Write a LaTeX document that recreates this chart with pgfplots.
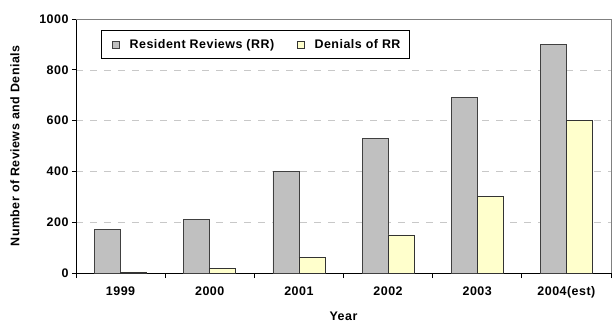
\documentclass[border=0pt]{standalone}
\usepackage{fontspec}
\setmainfont{Liberation Sans}[LetterSpace=4]
\usepackage{pgfplots}
\pgfplotsset{compat=1.18}

\definecolor{rrgray}{HTML}{C0C0C0}
\definecolor{denyellow}{HTML}{FFFFCC}
\definecolor{gridgray}{HTML}{C8C8C8}

\begin{document}
\begin{tikzpicture}[font=\fontsize{12.5}{14.5}\selectfont\bfseries]
\begin{axis}[
  scale only axis,
  width=535bp, height=254bp,
  ybar=0pt, bar width=26bp,
  xmin=-0.5, xmax=5.5,
  ymin=0, ymax=1000,
  xtick={0,1,2,3,4,5},
  xticklabels={1999,2000,2001,2002,2003,2004(est)},
  minor xtick={-0.5,0.5,1.5,2.5,3.5,4.5,5.5},
  major x tick style={draw=none},
  minor tick length=5bp,
  ytick={0,200,400,600,800,1000},
  major tick length=4bp,
  tick align=outside,
  tick style={black, line width=0.8pt},
  axis x line*=bottom, axis y line*=left,
  axis line style={black, line width=0.9pt, -},
  ymajorgrids,
  y grid style={gridgray, dash pattern=on 7bp off 7bp, line width=0.6pt},
  /pgf/number format/assume math mode=true,
  /pgf/number format/set thousands separator={},
  xticklabel style={yshift=-6bp},
  ylabel={Number of Reviews and Denials},
  ylabel style={at={(axis description cs:-0.114,0.5)}, anchor=center},
  xlabel={Year},
  xlabel style={at={(axis description cs:0.5,0)}, anchor=center, yshift=-43bp},
  legend columns=2,
  legend style={at={(axis description cs:0.0467,0.957)}, anchor=north west,
    draw=black, line width=0.8pt, inner xsep=7bp, inner ysep=7bp,
    font=\fontsize{12.5}{14.5}\selectfont\bfseries,
    /tikz/every odd column/.append style={column sep=8bp},
    /tikz/every even column/.append style={column sep=17bp}},
  legend image code/.code={%
    \path[draw=none, fill=none] (0bp,0bp) rectangle (11bp,0bp);
    \draw[#1, line width=0.6pt] (4bp,-3.5bp) rectangle (11bp,3.5bp);},
  clip=false,
]
\addplot[fill=rrgray, draw=black!75, line width=0.8pt]
  coordinates {(0,170) (1,210) (2,400) (3,530) (4,690) (5,900)};
\addlegendentry{Resident Reviews (RR)}
\addplot[fill=denyellow, draw=black!80, line width=0.8pt]
  coordinates {(0,4) (1,19) (2,60) (3,150) (4,303) (5,600)};
\addlegendentry{Denials of RR}
% light frame on the top and right sides of the plot area
\draw[gray, line width=0.6pt] (rel axis cs:0,1) -- (rel axis cs:1,1) -- (rel axis cs:1,0);
\end{axis}
\pgfresetboundingbox
\path (-76bp,-52bp) rectangle (537bp,273bp);
\end{tikzpicture}
\end{document}
